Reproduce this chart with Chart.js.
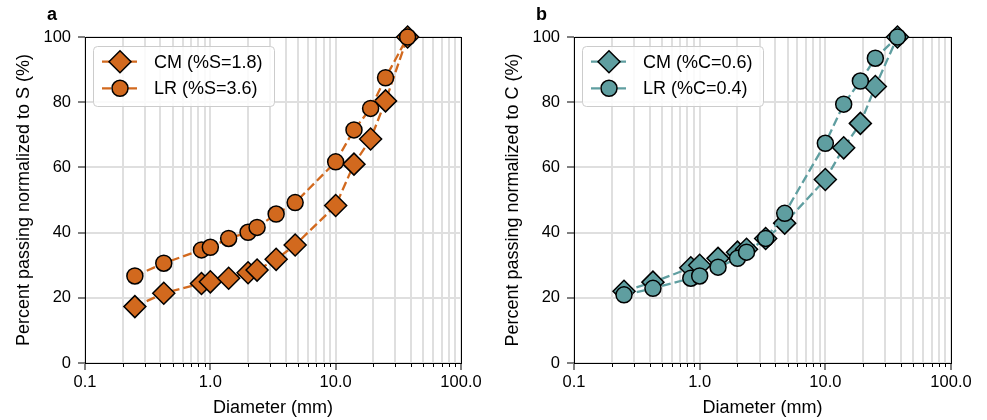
<!DOCTYPE html>
<html>
<head>
<meta charset="utf-8">
<script src="https://cdn.jsdelivr.net/npm/chart.js@4.4.0/dist/chart.umd.min.js"></script>
<style>
  body { margin: 0; background: #fff; }
  #left { position: absolute; left: 0; top: 0; }
  #right { position: absolute; left: 489px; top: 0; }
</style>
</head>
<body>
<canvas id="left" width="489" height="420"></canvas>
<canvas id="right" width="498" height="420"></canvas>
<script>
// sieve sizes (mm), same for both panels
var diameters = [0.25, 0.425, 0.85, 1.0, 1.4, 2.0, 2.36, 3.35, 4.75, 10, 14, 19, 25, 37.5];

// panel a: percent passing normalized to S
var cmSulfur = [17.3, 21.4, 24.4, 24.9, 26.0, 27.7, 28.5, 31.8, 36.2, 48.3, 61.0, 68.7, 80.4, 100];
var lrSulfur = [26.7, 30.6, 34.7, 35.5, 38.2, 40.1, 41.6, 45.7, 49.2, 61.7, 71.5, 78.1, 87.5, 100];

// panel b: percent passing normalized to C
var cmCarbon = [22.0, 24.8, 29.2, 30.0, 32.1, 34.0, 34.9, 38.2, 42.9, 56.3, 66.0, 73.5, 84.8, 100];
var lrCarbon = [20.9, 22.9, 26.0, 26.7, 29.4, 32.1, 34.0, 38.2, 45.9, 67.4, 79.4, 86.5, 93.5, 100];

var xMajorTicks = [0.1, 1, 10, 100];
var xMajorLabels = ['0.1', '1.0', '10.0', '100.0'];

var FONT = 'Liberation Sans, Arial, sans-serif';

function toPoints(xs, ys)
{
  var pts = [];
  for (var i = 0; i < xs.length; i++) {
    pts.push({x: xs[i], y: ys[i]});
  }
  return pts;
}

function makeChart(canvasId, letter, yTitle, color, cmValues, lrValues, cmLabel, lrLabel, rightPad)
{
  var ctx = document.getElementById(canvasId).getContext('2d');

  // box around the plot area (top + right spines) and short minor ticks
  var framePlugin = {
    id: 'frame',
    beforeDatasetsDraw: function(chart) {
      var a = chart.chartArea;
      var c = chart.ctx;
      var xs = chart.scales.x;
      c.save();
      c.strokeStyle = '#000';
      c.lineWidth = 1;
      c.strokeRect(Math.round(a.left) + 0.5, Math.round(a.top) + 0.5,
                   Math.round(a.right - a.left), Math.round(a.bottom - a.top));
      c.beginPath();
      xs.ticks.forEach(function(t) {
        if (t.major) return;
        var px = Math.round(xs.getPixelForValue(t.value)) + 0.5;
        c.moveTo(px, a.bottom);
        c.lineTo(px, a.bottom + 4);
      });
      c.stroke();
      c.restore();
    }
  };

  // legend inside the axes + panel letter
  var legendPlugin = {
    id: 'innerLegend',
    afterDraw: function(chart) {
      var a = chart.chartArea;
      var c = chart.ctx;
      c.save();
      c.font = 'bold 18px ' + FONT;
      c.fillStyle = '#000';
      c.textAlign = 'left';
      c.textBaseline = 'middle';
      c.fillText(letter, 47, 15);

      var bx = a.left + 8, by = a.top + 9, bw = 181, bh = 60;
      c.beginPath();
      c.roundRect(bx + 0.5, by + 0.5, bw, bh, 4);
      c.fillStyle = 'rgba(255,255,255,0.85)';
      c.fill();
      c.strokeStyle = '#cccccc';
      c.lineWidth = 1;
      c.stroke();

      var entries = [
        {label: cmLabel, style: 'rectRot', radius: 11, y: a.top + 24.7},
        {label: lrLabel, style: 'circle', radius: 8, y: a.top + 51.3}
      ];
      entries.forEach(function(e) {
        c.beginPath();
        c.setLineDash([9, 4]);
        c.strokeStyle = color;
        c.lineWidth = 2.3;
        c.moveTo(a.left + 17, e.y);
        c.lineTo(a.left + 55, e.y);
        c.stroke();
        c.setLineDash([]);
        c.fillStyle = color;
        c.strokeStyle = '#000';
        c.lineWidth = 1.5;
        Chart.helpers.drawPoint(c, {pointStyle: e.style, radius: e.radius, rotation: 0, borderWidth: 1.5},
                                a.left + 35, e.y);
        c.fillStyle = '#000';
        c.font = '18px ' + FONT;
        c.fillText(e.label, a.left + 69, e.y + 1);
      });
      c.restore();
    }
  };

  var chart = new Chart(ctx, {
    type: 'line',
    data: {
      datasets: [{
        label: cmLabel,
        data: toPoints(diameters, cmValues),
        borderColor: color,
        backgroundColor: color,
        borderWidth: 2.3,
        borderDash: [9, 4],
        pointStyle: 'rectRot',
        pointRadius: 11,
        pointHoverRadius: 11,
        pointBorderColor: '#000',
        pointBorderWidth: 1.5,
        pointBackgroundColor: color,
        order: 2
      }, {
        label: lrLabel,
        data: toPoints(diameters, lrValues),
        borderColor: color,
        backgroundColor: color,
        borderWidth: 2.3,
        borderDash: [9, 4],
        pointStyle: 'circle',
        pointRadius: 8,
        pointHoverRadius: 8,
        pointBorderColor: '#000',
        pointBorderWidth: 1.5,
        pointBackgroundColor: color,
        order: 1
      }]
    },
    options: {
      responsive: false,
      animation: false,
      clip: false,
      layout: {padding: {left: 0, right: rightPad, top: 37, bottom: 0}},
      plugins: {legend: {display: false}, tooltip: {enabled: false}},
      scales: {
        x: {
          type: 'logarithmic',
          min: 0.1,
          max: 100,
          afterBuildTicks: function(scale) {
            var ticks = [];
            for (var d = 0; d < 3; d++) {
              for (var m = 1; m < 10; m++) {
                var v = m * xMajorTicks[d];
                ticks.push({value: v, major: m === 1});
              }
            }
            ticks.push({value: 100, major: true});
            scale.ticks = ticks;
          },
          afterFit: function(scale) { scale.height = 57; },
          ticks: {
            autoSkip: false,
            maxRotation: 0,
            padding: 3,
            color: '#000',
            font: {family: FONT, size: 16.5},
            callback: function(value) {
              var idx = xMajorTicks.indexOf(value);
              return idx >= 0 ? xMajorLabels[idx] : '';
            }
          },
          grid: {
            color: '#dfdfdf',
            lineWidth: 2,
            tickLength: 7,
            tickWidth: 1,
            tickColor: function(c) { return c.tick && c.tick.major ? '#000' : 'rgba(0,0,0,0)'; }
          },
          border: {color: '#000', width: 1},
          title: {
            display: true,
            text: 'Diameter (mm)',
            color: '#000',
            font: {family: FONT, size: 18},
            padding: {top: 0, bottom: 1}
          }
        },
        y: {
          min: 0,
          max: 100,
          afterFit: function(scale) { scale.width = 85; },
          ticks: {
            stepSize: 20,
            padding: 7,
            color: '#000',
            font: {family: FONT, size: 16.5}
          },
          grid: {color: '#dfdfdf', lineWidth: 2, tickLength: 7, tickWidth: 1, tickColor: '#000'},
          border: {color: '#000', width: 1},
          title: {
            display: true,
            text: yTitle,
            color: '#000',
            font: {family: FONT, size: 18},
            padding: {top: 13, bottom: 0}
          }
        }
      }
    },
    plugins: [framePlugin, legendPlugin]
  });
  return chart;
}

makeChart('left', 'a', 'Percent passing normalized to S (%)', '#d2691e',
          cmSulfur, lrSulfur, 'CM (%S=1.8)', 'LR (%S=3.6)', 28);
makeChart('right', 'b', 'Percent passing normalized to C (%)', '#5f9ea0',
          cmCarbon, lrCarbon, 'CM (%C=0.6)', 'LR (%C=0.4)', 36);
</script>
</body>
</html>
